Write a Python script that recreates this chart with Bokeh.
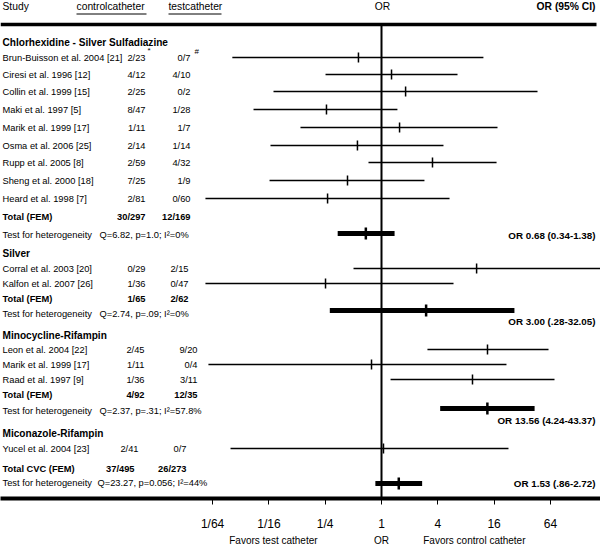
import numpy as np
from bokeh.plotting import figure
from bokeh.models import Range1d, LinearAxis, FixedTicker
from bokeh.embed import file_html
from bokeh.resources import INLINE
from bokeh.core.properties import value

FONT = "Liberation Sans"

# ---------------- data ----------------
chg_names = ["Brun-Buisson et al. 2004 [21]", "Ciresi et al. 1996 [12]", "Collin et al. 1999 [15]",
             "Maki et al. 1997 [5]", "Marik et al. 1999 [17]", "Osma et al. 2006 [25]",
             "Rupp et al. 2005 [8]", "Sheng et al. 2000 [18]", "Heard et al. 1998 [7]"]
chg_control = ["2/23", "4/12", "2/25", "8/47", "1/11", "2/14", "2/59", "7/25", "2/81"]
chg_test = ["0/7", "4/10", "0/2", "1/28", "1/7", "1/14", "4/32", "1/9", "0/60"]
chg_or = [0.567, 1.28, 1.81, 0.258, 1.56, 0.553, 3.51, 0.433, 0.265]
chg_lo = [0.0254, 0.252, 0.070, 0.0428, 0.136, 0.065, 0.726, 0.0635, 0.0131]
chg_hi = [12.3, 6.50, 46.6, 1.48, 17.4, 4.60, 17.0, 2.88, 5.34]

silver_names = ["Corral et al. 2003 [20]", "Kalfon et al. 2007 [26]"]
silver_control = ["0/29", "1/36"]
silver_test = ["2/15", "0/47"]
silver_or = [10.4, 0.252]
silver_lo = [0.502, 0.0131]
silver_hi = [600.0, 5.89]

mr_names = ["Leon et al. 2004 [22]", "Marik et al. 1999 [17]", "Raad et al. 1997 [9]"]
mr_control = ["2/45", "1/11", "1/36"]
mr_test = ["9/20", "0/4", "3/11"]
mr_or = [13.6, 0.782, 9.40]
mr_lo = [3.10, 0.0141, 1.25]
mr_hi = [61.1, 21.7, 70.8]

mico_names = ["Yucel et al. 2004 [23]"]
mico_control = ["2/41"]
mico_test = ["0/7"]
mico_or = [1.05]
mico_lo = [0.0243]
mico_hi = [22.8]

group_names = ["Chlorhexidine - Silver Sulfadiazine", "Silver", "Minocycline-Rifampin", "Miconazole-Rifampin"]
total_control = ["30/297", "1/65", "4/92"]
total_test = ["12/169", "2/62", "12/35"]
total_or = [0.68, 3.00, 13.56]
total_lo = [0.34, 0.28, 4.24]
total_hi = [1.38, 26.4, 43.37]
total_het = ["Q=6.82, p=1.0;  I\u00b2=0%", "Q=2.74,  p=.09; I\u00b2=0%", "Q=2.37, p=.31; I\u00b2=57.8%"]
total_labels = ["OR 0.68 (0.34-1.38)", "OR 3.00 (.28-32.05)", "OR 13.56 (4.24-43.37)"]

cvc_control = "37/495"
cvc_test = "26/273"
cvc_or = 1.53
cvc_lo = 0.86
cvc_hi = 2.72
cvc_het = "Q=23.27, p=0.056; I\u00b2=44%"
cvc_label = "OR 1.53 (.86-2.72)"

tick_vals = [-6, -4, -2, 0, 2, 4, 6]
tick_labels = ["1/64", "1/16", "1/4", "1", "4", "16", "64"]

# ---------------- layout (reference pixel units) ----------------
X0PX = 381.0      # pixel of OR = 1
PX_PER_LOG2 = 28.15
Y_AXIS = 498


def fx(px):
    return (px - X0PX) / PX_PER_LOG2


groups = [
    dict(names=chg_names, control=chg_control, test=chg_test, orv=chg_or, lo=chg_lo, hi=chg_hi,
         head_y=42, rows=[57, 74, 91, 109, 127, 145, 162, 180, 198], tot_y=216, het_y=234,
         thick_y=233, lab_y=235, cx=145, tx=190),
    dict(names=silver_names, control=silver_control, test=silver_test, orv=silver_or, lo=silver_lo,
         hi=silver_hi, head_y=253, rows=[268, 283], tot_y=298, het_y=313, thick_y=310, lab_y=321,
         cx=145, tx=188),
    dict(names=mr_names, control=mr_control, test=mr_test, orv=mr_or, lo=mr_lo, hi=mr_hi,
         head_y=335, rows=[349, 364, 379], tot_y=394, het_y=410, thick_y=408, lab_y=420,
         cx=144, tx=197),
    dict(names=mico_names, control=mico_control, test=mico_test, orv=mico_or, lo=mico_lo, hi=mico_hi,
         head_y=433, rows=[448], cx=138, tx=186),
]
CVC_TOT_Y, CVC_HET_Y, CVC_THICK_Y = 468, 482, 483

p = figure(frame_width=600, frame_height=Y_AXIS,
           x_range=Range1d(fx(0), fx(600)), y_range=Range1d(Y_AXIS, 0),
           output_backend="svg", toolbar_location=None,
           x_axis_location=None, y_axis_location=None, min_border=0,
           outline_line_color=None, background_fill_color="white", border_fill_color="white")
p.xgrid.visible = False
p.ygrid.visible = False

NAME_SIZE = "9.3px"


def add_text(xpx, ys, texts, align="left", size=NAME_SIZE, bold=False):
    p.text(x=[fx(v) for v in xpx], y=ys, text=texts, text_align=align, text_baseline="middle",
           text_font=value(FONT), text_font_size=size,
           text_font_style="bold" if bold else "normal", text_color="black")


# header
add_text([2], [6], ["Study"], size="10.3px")
add_text([76, 168], [6, 6], ["controlcatheter", "testcatheter"], size="10.3px")
add_text([382], [6], ["OR"], align="center", size="10.3px")
add_text([595], [6], ["OR (95% CI)"], align="right", size="10.3px", bold=True)
p.segment(x0=[fx(76), fx(168)], y0=[13.5, 13.5], x1=[fx(146), fx(221)], y1=[13.5, 13.5],
          line_color="black", line_width=1)
p.segment(x0=[fx(0)], y0=[24], x1=[fx(596)], y1=[24], line_color="black", line_width=3.5)
p.segment(x0=[0], y0=[24], x1=[0], y1=[Y_AXIS], line_color="black", line_width=2)

for gi, g in enumerate(groups):
    add_text([2], [g["head_y"]], [group_names[gi]], size="10.1px", bold=True)
    n = len(g["names"])
    add_text([2] * n, g["rows"], g["names"])
    add_text([g["cx"]] * n, g["rows"], g["control"], align="right")
    add_text([g["tx"]] * n, g["rows"], g["test"], align="right")
    lo = np.log2(g["lo"])
    hi = np.log2(g["hi"])
    pt = np.log2(g["orv"])
    ys = np.array(g["rows"], dtype=float)
    p.segment(x0=lo, y0=ys, x1=hi, y1=ys, line_color="black", line_width=1.5)
    p.segment(x0=pt, y0=ys - 5, x1=pt, y1=ys + 5, line_color="black", line_width=1.5)
    if gi < 3:
        add_text([2], [g["tot_y"]], ["Total (FEM)"], bold=True)
        add_text([g["cx"]], [g["tot_y"]], [total_control[gi]], align="right", bold=True)
        add_text([g["tx"]], [g["tot_y"]], [total_test[gi]], align="right", bold=True)
        add_text([2], [g["het_y"]], ["Test for heterogeneity"])
        add_text([99], [g["het_y"]], [total_het[gi]])
        add_text([595], [g["lab_y"]], [total_labels[gi]], align="right", size="9.8px", bold=True)
        ty = g["thick_y"]
        p.segment(x0=[np.log2(total_lo[gi])], y0=[ty], x1=[np.log2(total_hi[gi])], y1=[ty],
                  line_color="black", line_width=5)
        tp = np.log2(total_or[gi])
        p.segment(x0=[tp], y0=[ty - 6], x1=[tp], y1=[ty + 6], line_color="black", line_width=2.5)

# superscripts on first row
add_text([147], [50], ["*"], size="8px")
add_text([194], [51], ["#"], size="8px")

# overall total
add_text([2], [CVC_TOT_Y], ["Total CVC (FEM)"], bold=True)
add_text([134], [CVC_TOT_Y], [cvc_control], align="right", bold=True)
add_text([186], [CVC_TOT_Y], [cvc_test], align="right", bold=True)
add_text([2], [CVC_HET_Y], ["Test for heterogeneity"])
add_text([97], [CVC_HET_Y], [cvc_het])
add_text([595], [CVC_THICK_Y], [cvc_label], align="right", size="9.8px", bold=True)
p.segment(x0=[np.log2(cvc_lo)], y0=[CVC_THICK_Y], x1=[np.log2(cvc_hi)], y1=[CVC_THICK_Y],
          line_color="black", line_width=5)
p.segment(x0=[np.log2(cvc_or)], y0=[CVC_THICK_Y - 6], x1=[np.log2(cvc_or)], y1=[CVC_THICK_Y + 6],
          line_color="black", line_width=2.5)

# x axis
ax = LinearAxis(ticker=FixedTicker(ticks=tick_vals),
                major_label_overrides={t: l for t, l in zip(tick_vals, tick_labels)})
ax.axis_line_width = 4
ax.axis_line_color = "black"
ax.major_tick_out = 6
ax.major_tick_in = 0
ax.major_tick_line_width = 1
ax.minor_tick_line_color = None
ax.major_label_standoff = 12
ax.major_label_text_font = FONT
ax.major_label_text_font_size = "12px"
ax.major_label_text_color = "black"
p.add_layout(ax, "below")

fav_ticks = [round(fx(273), 2), 0.0, round(fx(474), 2)]
fav_labels = ["Favors test catheter", "OR", "Favors control catheter"]
ax2 = LinearAxis(ticker=FixedTicker(ticks=fav_ticks),
                 major_label_overrides={t: l for t, l in zip(fav_ticks, fav_labels)})
ax2.axis_line_color = None
ax2.major_tick_line_color = None
ax2.minor_tick_line_color = None
ax2.major_tick_out = 0
ax2.major_tick_in = 0
ax2.major_label_standoff = 1
ax2.major_label_text_font = FONT
ax2.major_label_text_font_size = "10px"
ax2.major_label_text_color = "black"
p.add_layout(ax2, "below")

open("out.html", "w").write(file_html(p, INLINE))
